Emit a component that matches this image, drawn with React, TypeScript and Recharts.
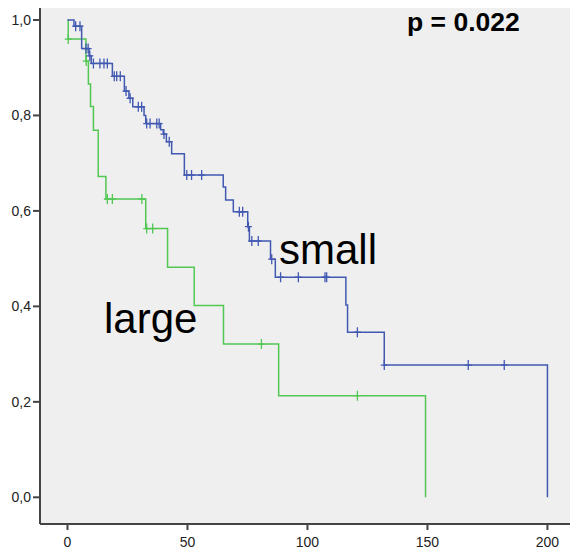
import {
  CartesianGrid,
  ComposedChart,
  Line,
  Scatter,
  XAxis,
  YAxis
} from "recharts";

// Kaplan-Meier steps: time -> survival after the event
const smallTimes = [0, 2.7, 5.9, 9.0, 9.9, 18.7, 23.7, 25.6, 27.2, 31.9, 32.6, 38.8, 39.9, 41.2, 43.4, 48.7, 64.9, 65.9, 69.1, 75.1, 75.8, 84.6, 86.6, 116.0, 116.7, 132.0, 200.0];
const smallSurv = [1.0, 0.987, 0.94, 0.925, 0.909, 0.882, 0.851, 0.836, 0.818, 0.8, 0.783, 0.77, 0.761, 0.745, 0.72, 0.675, 0.65, 0.623, 0.598, 0.567, 0.537, 0.499, 0.461, 0.403, 0.346, 0.277, 0];
const smallCensored = [3.4, 5.2, 7.7, 8.6, 9.3, 10.8, 13.5, 15.2, 16.6, 19.5, 20.5, 22.0, 24.4, 26.1, 29.5, 30.9, 33.0, 34.4, 37.2, 38.2, 40.2, 42.4, 49.7, 51.7, 55.9, 71.6, 73.0, 75.4, 76.8, 79.5, 85.1, 88.8, 96.2, 107.3, 108.0, 120.8, 132.0, 167.0, 182.0];

const largeTimes = [0, 0.3, 7.7, 8.7, 9.6, 10.8, 12.8, 16.0, 32.6, 41.7, 52.8, 65.0, 88.0, 149.2];
const largeSurv = [1.0, 0.96, 0.914, 0.866, 0.819, 0.769, 0.672, 0.625, 0.563, 0.482, 0.402, 0.321, 0.213, 0];
const largeCensored = [0.3, 7.8, 16.6, 18.7, 31.0, 33.0, 35.5, 80.8, 120.8];

const xTicks = [0, 50, 100, 150, 200];
const yTicks = [0, 0.2, 0.4, 0.6, 0.8, 1.0];

const BLUE = "#4259b2";
const GREEN = "#52c852";
const FONT = "'Liberation Sans', Arial, sans-serif";

function toSteps(times: number[], surv: number[]) {
  return times.map((t, i) => ({ t, s: surv[i] }));
}

function censorPoints(censored: number[], times: number[], surv: number[]) {
  return censored.map((t) => {
    let s = surv[0];
    for (let i = 0; i < times.length; i++) {
      if (times[i] <= t) s = surv[i];
    }
    return { t, s };
  });
}

function plusShape(color: string) {
  return (props: any) => {
    const { cx, cy } = props;
    return (
      <path
        d={`M${cx},${cy - 5}V${cy + 5}M${cx - 3.5},${cy}H${cx + 3.5}`}
        stroke={color}
        strokeWidth={1.3}
        fill="none"
      />
    );
  };
}

export default function App() {
  const smallData = toSteps(smallTimes, smallSurv);
  const largeData = toSteps(largeTimes, largeSurv);
  const smallMarks = censorPoints(smallCensored, smallTimes, smallSurv);
  const largeMarks = censorPoints(largeCensored, largeTimes, largeSurv);

  const tick = { fill: "#222", fontSize: 14, fontFamily: FONT };
  const axisStroke = { stroke: "#444", strokeWidth: 2 };

  return (
    <div style={{ position: "absolute", left: 0, top: 0, width: 570, height: 551, background: "#fff" }}>
      <ComposedChart width={570} height={551} margin={{ top: 8, right: 0, bottom: 0, left: 0 }}>
        <CartesianGrid fill="#efefef" horizontal={false} vertical={false} />
        <XAxis
          dataKey="t"
          type="number"
          domain={[-11.46, 209.4]}
          allowDataOverflow
          ticks={xTicks}
          height={27}
          tickSize={6}
          tickMargin={7}
          tick={tick}
          axisLine={axisStroke}
          tickLine={axisStroke}
        />
        <YAxis
          dataKey="s"
          type="number"
          domain={[-0.0559, 1.0251]}
          allowDataOverflow
          ticks={yTicks}
          width={40}
          tickSize={7}
          tickMargin={2}
          tick={tick}
          axisLine={axisStroke}
          tickLine={axisStroke}
          tickFormatter={(v: number) => v.toFixed(1).replace(".", ",")}
        />
        <Line data={largeData} dataKey="s" type="stepAfter" stroke={GREEN} strokeWidth={1.5} dot={false} isAnimationActive={false} />
        <Line data={smallData} dataKey="s" type="stepAfter" stroke={BLUE} strokeWidth={1.5} dot={false} isAnimationActive={false} />
        <Scatter data={largeMarks} dataKey="s" shape={plusShape(GREEN)} isAnimationActive={false} />
        <Scatter data={smallMarks} dataKey="s" shape={plusShape(BLUE)} isAnimationActive={false} />
      </ComposedChart>
      <svg width={570} height={551} style={{ position: "absolute", left: 0, top: 0, pointerEvents: "none" }}>
        <text x={407} y={31} fontFamily={FONT} fontSize={26.5} fontWeight="bold" fill="#000">p = 0.022</text>
        <text x={279} y={264} fontFamily={FONT} fontSize={42} fill="#000">small</text>
        <text x={104} y={333} fontFamily={FONT} fontSize={42} fill="#000">large</text>
      </svg>
    </div>
  );
}
